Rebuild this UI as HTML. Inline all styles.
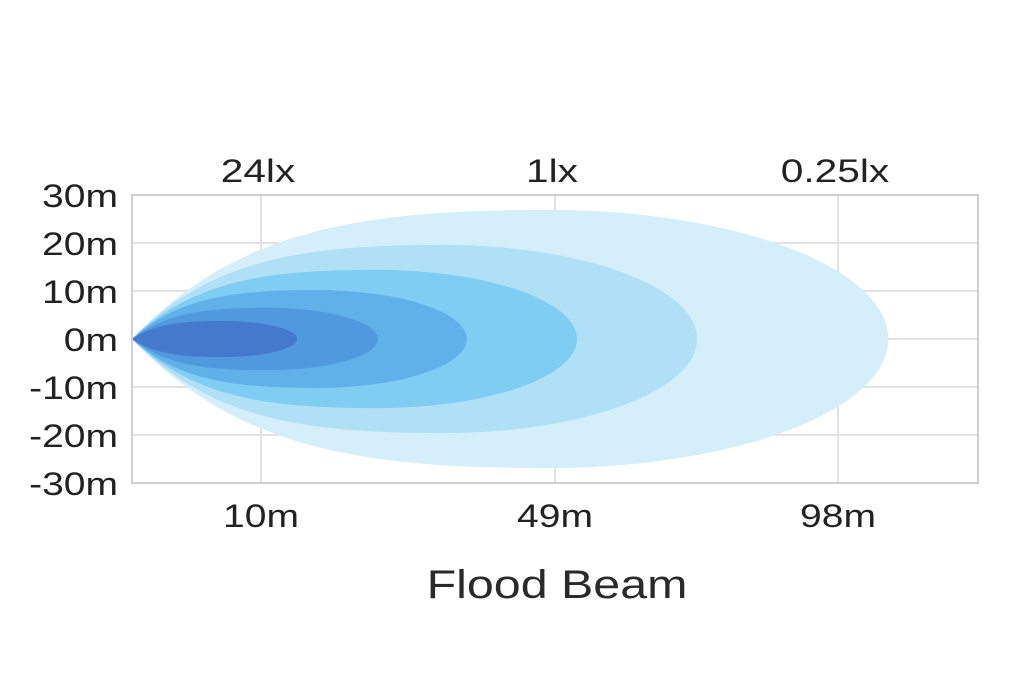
<!DOCTYPE html>
<html><head><meta charset="utf-8"><style>
html,body{margin:0;padding:0;background:#fff;}
svg{display:block;font-family:"Liberation Sans",sans-serif;}
</style></head><body>
<svg id="chart" width="1024" height="682" viewBox="0 0 1024 682">
<g id="grid"></g>
<g id="beams"></g>
<rect x="132" y="195" width="846" height="288" fill="none" stroke="#cfcfcf" stroke-width="2"/>
<g id="labels"></g>
<text transform="translate(557,598) scale(1.21,1)" font-size="40" text-anchor="middle" fill="#2a2a2a">Flood Beam</text>
</svg>
<script>
const xTickVals=[10,49,98];
const xTickLabels=["10m","49m","98m"];
const luxLabels=["24lx","1lx","0.25lx"];
const yTickVals=[30,20,10,0,-10,-20,-30];
const yTickLabels=["30m","20m","10m","0m","-10m","-20m","-30m"];
const beamReach=[106.7,73.6,52.8,37.3,25.5,14.8];
const beamHalfWidth=[26.9,19.6,14.4,10.2,6.5,3.75];
const beamColors=["#d4eefa","#afe0f6","#80cdf3","#60b1ea","#5199df","#4479cc"];

const NS="http://www.w3.org/2000/svg";
const L=132,Rr=978,cy=339,SX=1.22;
const xm=[0,10,49,98], xp=[132,261,555,838];
function X(v){
  for(let i=0;i<xm.length-1;i++){ if(v<=xm[i+1]||i===xm.length-2){return xp[i]+(v-xm[i])*(xp[i+1]-xp[i])/(xm[i+1]-xm[i]);} }
}
function Y(v){return cy-v*4.8;}
function mk(tag,attrs,parent){const e=document.createElementNS(NS,tag);for(const k in attrs)e.setAttribute(k,attrs[k]);parent.appendChild(e);return e;}
const grid=document.getElementById('grid'),beams=document.getElementById('beams'),labels=document.getElementById('labels');
yTickVals.forEach((v,i)=>{
  const l=mk('line',{x1:L,x2:Rr,y1:Y(v),y2:Y(v),stroke:'#e2e2e2','stroke-width':2},grid);
  
  
  const t=mk('text',{transform:`translate(118,${Y(v)+12}) scale(${SX},1)`,'font-size':32,'text-anchor':'end',fill:'#222'},labels);
  t.textContent=yTickLabels[i];
  
  
});
xTickVals.forEach((v,i)=>{
  const l=mk('line',{x1:X(v),x2:X(v),y1:195,y2:483,stroke:'#e2e2e2','stroke-width':2},grid);
  
  
  const t=mk('text',{transform:`translate(${X(v)},527) scale(${SX},1)`,'font-size':32,'text-anchor':'middle',fill:'#222'},labels);
  t.textContent=xTickLabels[i];
  
  
  const u=mk('text',{transform:`translate(${X(v)-3},182) scale(1.27,1)`,'font-size':32,'text-anchor':'middle',fill:'#222'},labels);
  u.textContent=luxLabels[i];
  
  
});
beamReach.forEach((r,i)=>{
  const R=X(r), h=beamHalfWidth[i]*4.8, cx=L+(R-L)*0.55;
  const d=`M${L},${cy} C${L+(cx-L)*0.25},${cy-h*0.85} ${cx-(cx-L)*0.45},${cy-h} ${cx},${cy-h} A${R-cx},${h} 0 0 1 ${R},${cy} A${R-cx},${h} 0 0 1 ${cx},${cy+h} C${cx-(cx-L)*0.45},${cy+h} ${L+(cx-L)*0.25},${cy+h*0.85} ${L},${cy} Z`;
  const p=mk('path',{d:d,fill:beamColors[i]},beams);
  
  
});
</script>
</body></html>
